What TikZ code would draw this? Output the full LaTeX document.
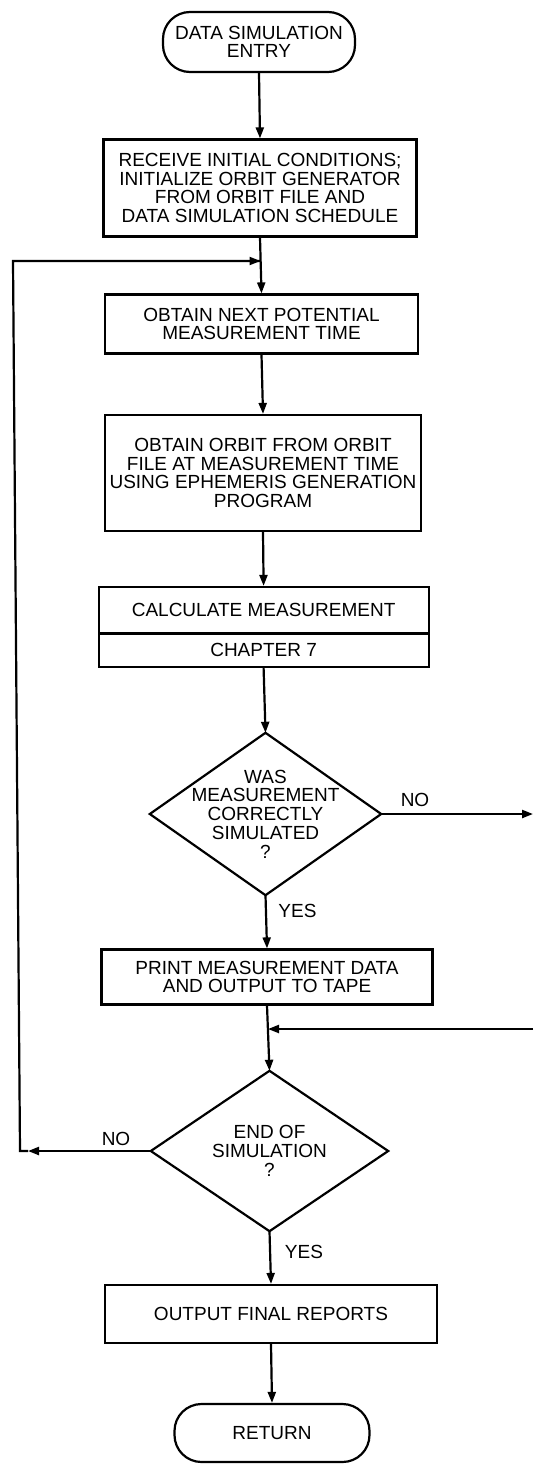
\documentclass[tikz,border=0pt]{standalone}
\usepackage{fontspec}
\setmainfont{Liberation Sans}
\usetikzlibrary{arrows.meta}
\begin{document}
\begin{tikzpicture}[x=1pt,y=-1pt,
  every node/.style={font=\fontsize{19}{18.7}\selectfont, align=center, inner sep=0pt},
  box/.style={draw, line width=2.2pt},
  term/.style={draw, line width=2.2pt, rounded corners=27pt},
  dia/.style={draw=none},
  ln/.style={line width=2.2pt},
  arr/.style={line width=2.2pt, -{Triangle[length=11pt,width=8pt]}}
]
\useasboundingbox (0,0) rectangle (533,1464);

\node[term, minimum width=192pt, minimum height=60pt] (start) at (259,42) {DATA SIMULATION\\ENTRY};
\node[box, minimum width=313pt, minimum height=97pt] (b1) at (260,188)
  {RECEIVE INITIAL CONDITIONS;\\INITIALIZE ORBIT GENERATOR\\FROM ORBIT FILE AND\\DATA SIMULATION SCHEDULE};
\node[box, minimum width=313pt, minimum height=59pt] (b2) at (261.5,324)
  {OBTAIN NEXT POTENTIAL\\MEASUREMENT TIME};
\node[box, minimum width=316pt, minimum height=116pt] (b3) at (263,473)
  {OBTAIN ORBIT FROM ORBIT\\FILE AT MEASUREMENT TIME\\USING EPHEMERIS GENERATION\\PROGRAM};
\node[box, minimum width=330pt, minimum height=46.5pt] (b4a) at (263.6,610.25) {CALCULATE MEASUREMENT};
\node[box, minimum width=330pt, minimum height=33.5pt] (b4b) at (263.6,650.25) {CHAPTER 7};
\node[dia, minimum width=231pt, minimum height=162pt] (d1) at (265.5,814)
  {WAS\\MEASUREMENT\\CORRECTLY\\SIMULATED\\?};
\draw[ln, line join=miter] (d1.north) -- (d1.east) -- (d1.south) -- (d1.west) -- cycle;
\node[box, minimum width=331pt, minimum height=55pt] (b5) at (267,977)
  {PRINT MEASUREMENT DATA\\AND OUTPUT TO TAPE};
\node[dia, minimum width=237pt, minimum height=160pt] (d2) at (269.5,1151)
  {END OF\\SIMULATION\\?};
\draw[ln, line join=miter] (d2.north) -- (d2.east) -- (d2.south) -- (d2.west) -- cycle;
\node[box, minimum width=332pt, minimum height=58pt] (b6) at (271,1314) {OUTPUT FINAL REPORTS};
\node[term, minimum width=195pt, minimum height=58pt] (ret) at (272,1433) {RETURN};

% labels
\node (no1) at (415,800) {NO};
\node (yes1) at (297.5,911) {YES};
\node (no2) at (116,1139) {NO};
\node (yes2) at (304,1252) {YES};

% coordinates
\coordinate (jt) at (260.5,261);
\coordinate (jm) at (268,1029);
\coordinate (rout) at (533,814);
\coordinate (rin) at (533,1029);
\coordinate (lc) at (20,1151);
\coordinate (lca) at (28,1151);
\coordinate (lt) at (13,261);

% connectors
\draw[arr] (start.south) -- (b1.north);
\draw[arr] (b1.south) -- (b2.north);
\draw[arr] (b2.south) -- (b3.north);
\draw[arr] (b3.south) -- (b4a.north);
\draw[arr] (b4b.south) -- (d1.north);
\draw[arr] (d1.south) -- (b5.north);
\draw[arr] (d1.east) -- (rout);
\draw[arr] (b5.south) -- (d2.north);
\draw[arr] (rin) -- (jm);
\draw[arr] (d2.west) -- (lca);
\draw[ln, line join=miter] (lca) -- (lc) -- (lt) -- (jt);
\draw[arr] (lt) -- (jt);
\draw[arr] (d2.south) -- (b6.north);
\draw[arr] (b6.south) -- (ret.north);
\end{tikzpicture}
\end{document}
